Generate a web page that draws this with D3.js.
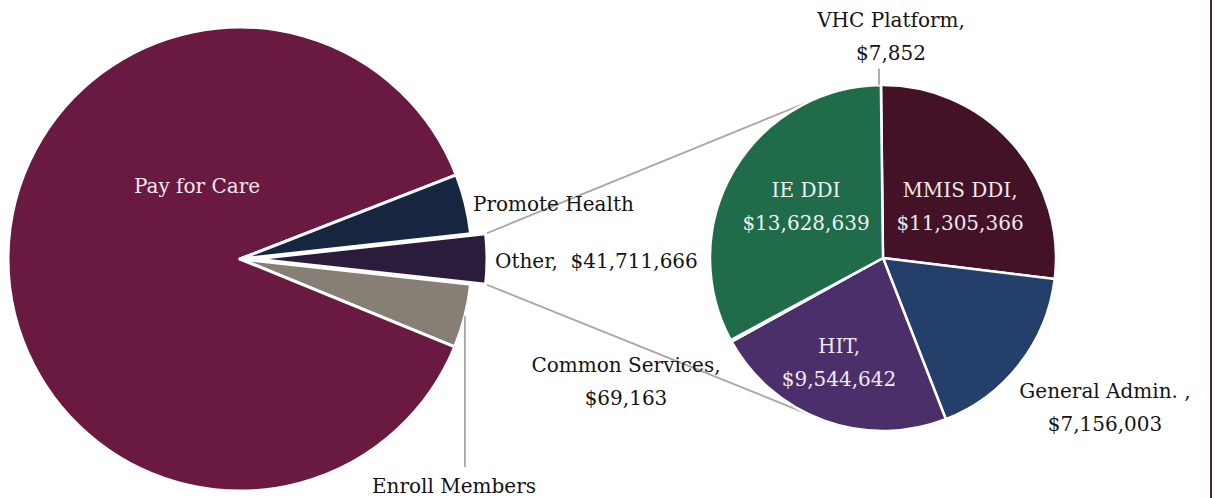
<!DOCTYPE html>
<html>
<head>
<meta charset="utf-8">
<script src="https://cdn.jsdelivr.net/npm/d3@7"></script>
<style>
  html, body { margin: 0; padding: 0; background: #ffffff; }
  svg { display: block; }
  text { font-family: "DejaVu Serif", "Liberation Serif", serif; }
</style>
</head>
<body>
<svg id="chart" width="1215" height="498"></svg>
<script>
// ---------- DATA ----------
// Main pie (drawing order, clockwise starting with the split-out "Other" slice)
const mainCategories = ["Other", "Enroll Members", "Pay for Care", "Promote Health"];
const mainValues = [41711666, 53400000, 1056000000, 50000000];   // only "Other" is labelled; others estimated from angles
const mainShowValue = [true, false, false, false];

// Secondary pie: breakdown of "Other" (clockwise from 12 o'clock)
const detailCategories = ["VHC Platform", "MMIS DDI", "General Admin. ", "HIT", "Common Services", "IE DDI"];
const detailValues = [7852, 11305366, 7156003, 9544642, 69163, 13628639];
const detailComma = [true, true, true, true, true, false];

// ---------- STYLE / LAYOUT ----------
const mainColors = ["#2C1C3C", "#877E75", "#6A1A40", "#172640"];
const detailColors = ["#6A1A40", "#431226", "#253F6B", "#4B2F6A", "#7A6E78", "#206B4A"];
const mainLabelFill = ["#141414", "#141414", "#F2E6EC", "#141414"];
const detailLabelFill = ["#141414", "#F2E8EC", "#141414", "#F0EAF4", "#141414", "#EEF4F0"];

const W = 1215, H = 498;
const L = { x: 240, y: 259, r: 232, explode: 15 };
const R = { x: 883, y: 258, r: 173 };
const fontSize = 20;
const lineGap = 32.5;

// label anchors relative to pie centres (first-line baseline)
const mainLabelPos = [[255, 9, "start"], [214, 234, "middle"], [-43, -66, "middle"], [233, -48, "start"]];
const detailLabelPos = [[8, -231, "middle"], [77, -61, "middle"], [222, 140, "middle"], [-44, 95, "middle"], [-257, 114, "middle"], [-77, -61, "middle"]];
const connectorAngles = [335, 205]; // degrees on the secondary pie

const fmt = d3.format("$,");
const deg = Math.PI / 180;
const svg = d3.select("#chart");

// ---------- MAIN PIE ----------
const total = d3.sum(mainValues);
const otherSpan = mainValues[0] / total * 2 * Math.PI;
const start = Math.PI / 2 - otherSpan / 2;
const pieL = d3.pie().sort(null).value(d => d).startAngle(start).endAngle(start + 2 * Math.PI);
const arcsL = pieL(mainValues);
const arcL = d3.arc().innerRadius(0).outerRadius(L.r);

function offset(d, i) {
  if (i !== 0) return [0, 0];
  const mid = (d.startAngle + d.endAngle) / 2;
  return [L.explode * Math.sin(mid), -L.explode * Math.cos(mid)];
}

// connector lines (under the pies)
const oArc = arcsL[0];
const oOff = offset(oArc, 0);
const corners = [oArc.startAngle, oArc.endAngle].map(a => [
  L.x + oOff[0] + L.r * Math.sin(a),
  L.y + oOff[1] - L.r * Math.cos(a)
]);
const targets = connectorAngles.map(a => [R.x + R.r * Math.sin(a * deg), R.y - R.r * Math.cos(a * deg)]);
svg.append("g").selectAll("line").data([0, 1]).join("line")
  .attr("x1", i => corners[i][0]).attr("y1", i => corners[i][1])
  .attr("x2", i => targets[i][0]).attr("y2", i => targets[i][1])
  .attr("stroke", "#A6A6A6").attr("stroke-width", 1.8);

const gL = svg.append("g").attr("transform", `translate(${L.x},${L.y})`);
gL.selectAll("path").data(arcsL).join("path")
  .attr("d", arcL)
  .attr("transform", (d, i) => `translate(${offset(d, i)})`)
  .attr("fill", (d, i) => mainColors[i])
  .attr("stroke", "#ffffff").attr("stroke-width", 3).attr("stroke-linejoin", "round");

// leader for Enroll Members
{
  const d = arcsL[1];
  const mid = (d.startAngle + d.endAngle) / 2;
  const px = L.r * Math.sin(mid), py = -L.r * Math.cos(mid);
  gL.append("line").attr("x1", px).attr("y1", py).attr("x2", px).attr("y2", 208)
    .attr("stroke", "#A6A6A6").attr("stroke-width", 1.8);
}

gL.selectAll("text.lab").data(arcsL).join("text").attr("class", "lab")
  .attr("x", (d, i) => mainLabelPos[i][0])
  .attr("y", (d, i) => mainLabelPos[i][1])
  .attr("text-anchor", (d, i) => mainLabelPos[i][2])
  .attr("font-size", fontSize)
  .attr("fill", (d, i) => mainLabelFill[i])
  .style("white-space", "pre")
  .text((d, i) => mainShowValue[i] ? `${mainCategories[i]},  ${fmt(mainValues[i])}` : mainCategories[i]);

// ---------- SECONDARY PIE ----------
const rStart = -0.7 * deg;
const pieR = d3.pie().sort(null).value(d => d).startAngle(rStart).endAngle(rStart + 2 * Math.PI);
const arcsR = pieR(detailValues);
const arcR = d3.arc().innerRadius(0).outerRadius(R.r);
const gR = svg.append("g").attr("transform", `translate(${R.x},${R.y})`);
gR.selectAll("path").data(arcsR).join("path")
  .attr("d", arcR)
  .attr("fill", (d, i) => detailColors[i])
  .attr("stroke", "#ffffff").attr("stroke-width", 2.5).attr("stroke-linejoin", "round");

// leader for VHC Platform
{
  const d = arcsR[0];
  const mid = (d.startAngle + d.endAngle) / 2;
  const px = R.r * Math.sin(mid) - 2, py = -R.r * Math.cos(mid);
  gR.append("line").attr("x1", px).attr("y1", py).attr("x2", px).attr("y2", detailLabelPos[0][1] + lineGap + 9)
    .attr("stroke", "#A6A6A6").attr("stroke-width", 1.8);
}

const labR = gR.selectAll("text.lab").data(arcsR).join("text").attr("class", "lab")
  .attr("text-anchor", (d, i) => detailLabelPos[i][2])
  .attr("font-size", fontSize)
  .attr("fill", (d, i) => detailLabelFill[i]);
labR.append("tspan")
  .attr("x", (d, i) => detailLabelPos[i][0])
  .attr("y", (d, i) => detailLabelPos[i][1])
  .text((d, i) => detailCategories[i] + (detailComma[i] ? "," : ""));
labR.append("tspan")
  .attr("x", (d, i) => detailLabelPos[i][0])
  .attr("y", (d, i) => detailLabelPos[i][1] + lineGap)
  .text((d, i) => fmt(detailValues[i]));

// right frame border
svg.append("line").attr("x1", 1211).attr("x2", 1211).attr("y1", 0).attr("y2", H)
  .attr("stroke", "#5C1D42").attr("stroke-width", 2);
</script>
</body>
</html>
